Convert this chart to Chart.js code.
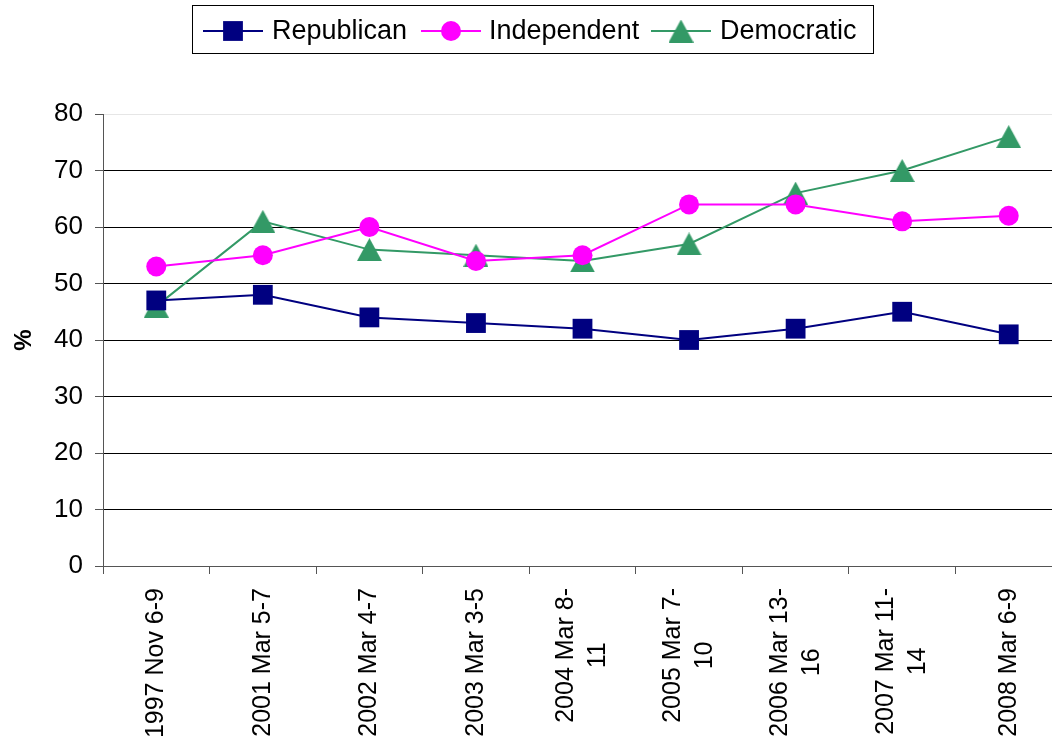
<!DOCTYPE html>
<html>
<head>
<meta charset="utf-8">
<script src="https://cdn.jsdelivr.net/npm/chart.js@4/dist/chart.umd.min.js"></script>
<style>
  html, body { margin: 0; padding: 0; background: #fff; overflow: hidden; }
  canvas { display: block; }
</style>
</head>
<body>
<canvas id="chart" width="1076" height="740"></canvas>
<script>
// Poll dates (multi-line where the label wraps)
const categories = [
  ["1997 Nov 6-9"],
  ["2001 Mar 5-7"],
  ["2002 Mar 4-7"],
  ["2003 Mar 3-5"],
  ["2004 Mar 8-", "11"],
  ["2005 Mar 7-", "10"],
  ["2006 Mar 13-", "16"],
  ["2007 Mar 11-", "14"],
  ["2008 Mar 6-9"]
];
const republican  = [47, 48, 44, 43, 42, 40, 42, 45, 41];
const independent = [53, 55, 60, 54, 55, 64, 64, 61, 62];
const democratic  = [46, 61, 56, 55, 54, 57, 66, 70, 76];
const seriesNames = ["Republican", "Independent", "Democratic"];
const yTickValues = [0, 10, 20, 30, 40, 50, 60, 70, 80];

const FONT = "'Liberation Sans', Arial, Helvetica, sans-serif";

// Filled triangle marker, centred on its bounding box
function makeTriangle(color, w, h) {
  const c = document.createElement('canvas');
  c.width = w; c.height = h;
  const g = c.getContext('2d');
  g.fillStyle = color;
  g.beginPath();
  g.moveTo(w / 2, 0);
  g.lineTo(w, h);
  g.lineTo(0, h);
  g.closePath();
  g.fill();
  return c;
}
const triangleMarker = makeTriangle('#339966', 25, 23);

// Boxed legend across the top, each entry a line with its marker
const boxedLegend = {
  id: 'boxedLegend',
  afterDraw(chart) {
    const ctx = chart.ctx;
    ctx.save();
    ctx.strokeStyle = '#000';
    ctx.lineWidth = 1;
    ctx.strokeRect(192.5, 5.5, 681, 48);
    const cy = 31;
    const items = [
      { lineX: 203, markX: 233, textX: 272 },
      { lineX: 421, markX: 451, textX: 489 },
      { lineX: 651, markX: 681, textX: 720 }
    ];
    chart.data.datasets.forEach((ds, i) => {
      const it = items[i];
      ctx.strokeStyle = ds.borderColor;
      ctx.lineWidth = 2;
      ctx.beginPath();
      ctx.moveTo(it.lineX, cy);
      ctx.lineTo(it.lineX + 60, cy);
      ctx.stroke();
      ctx.fillStyle = ds.pointBackgroundColor;
      Chart.helpers.drawPoint(ctx, {
        pointStyle: ds.pointStyle, radius: ds.pointRadius, rotation: 0, borderWidth: 0
      }, it.markX, cy);
      ctx.fillStyle = '#000';
      ctx.font = '27px ' + FONT;
      ctx.textAlign = 'left';
      ctx.textBaseline = 'middle';
      ctx.fillText(seriesNames[i], it.textX, cy + 1);
    });
    ctx.restore();
  }
};

// Vertical category labels; a wrapped second line is centred on the first
const verticalLabels = {
  id: 'verticalLabels',
  afterDraw(chart) {
    const ctx = chart.ctx;
    const xs = chart.scales.x;
    const top = chart.chartArea.bottom + 22;
    const lh = 32;
    ctx.save();
    ctx.font = '25px ' + FONT;
    ctx.fillStyle = '#000';
    ctx.textBaseline = 'middle';
    categories.forEach((lines, i) => {
      const x = xs.getPixelForValue(i);
      ctx.save();
      ctx.translate(x, top);
      ctx.rotate(-Math.PI / 2);
      const w1 = ctx.measureText(lines[0]).width;
      const n = lines.length;
      lines.forEach((t, k) => {
        const off = (k - (n - 1) / 2) * lh;
        if (k === 0) {
          ctx.textAlign = 'right';
          ctx.fillText(t, 0, off);
        } else {
          ctx.textAlign = 'center';
          ctx.fillText(t, -w1 / 2, off);
        }
      });
      ctx.restore();
    });
    ctx.restore();
  }
};

new Chart(document.getElementById('chart'), {
  type: 'line',
  data: {
    labels: categories,
    datasets: [
      {
        label: seriesNames[0], data: republican,
        borderColor: '#000080', backgroundColor: '#000080',
        pointBackgroundColor: '#000080', pointStyle: 'rect',
        pointRadius: 14, pointBorderWidth: 0, pointHoverRadius: 14,
        borderWidth: 2, tension: 0
      },
      {
        label: seriesNames[1], data: independent,
        borderColor: '#ff00ff', backgroundColor: '#ff00ff',
        pointBackgroundColor: '#ff00ff', pointStyle: 'circle',
        pointRadius: 10, pointBorderWidth: 0, pointHoverRadius: 10,
        borderWidth: 2, tension: 0
      },
      {
        label: seriesNames[2], data: democratic,
        borderColor: '#339966', backgroundColor: '#339966',
        pointBackgroundColor: '#339966', pointStyle: triangleMarker,
        pointRadius: 12, pointBorderWidth: 0, pointHoverRadius: 12,
        borderWidth: 2, tension: 0
      }
    ]
  },
  options: {
    responsive: false,
    animation: false,
    devicePixelRatio: 1,
    layout: { padding: { top: 114, bottom: 166, left: 0, right: 0 } },
    plugins: {
      legend: { display: false },
      tooltip: { enabled: false },
      title: { display: false }
    },
    scales: {
      x: {
        type: 'category',
        offset: true,
        grid: {
          offset: true,
          drawOnChartArea: false,
          drawTicks: true,
          tickLength: 8,
          tickColor: '#555'
        },
        border: { display: true, color: '#555', width: 1 },
        ticks: { display: false }
      },
      y: {
        min: 0, max: 80,
        afterBuildTicks(scale) {
          scale.ticks = yTickValues.map(v => ({ value: v }));
        },
        afterFit(scale) { scale.width = 103; },
        grid: {
          color: ctx => (ctx.tick && ctx.tick.value === 80) ? '#e6e6e6' : '#000',
          lineWidth: 1,
          drawTicks: true,
          tickLength: 8,
          tickColor: '#555'
        },
        border: { display: true, color: '#555', width: 1 },
        ticks: {
          font: { family: FONT, size: 26 },
          color: '#000',
          padding: 12
        },
        title: {
          display: true,
          text: '%',
          color: '#000',
          font: { family: FONT, size: 24, weight: 'bold' },
          padding: { top: 10, bottom: 0 }
        }
      }
    }
  },
  plugins: [boxedLegend, verticalLabels]
});
</script>
</body>
</html>
